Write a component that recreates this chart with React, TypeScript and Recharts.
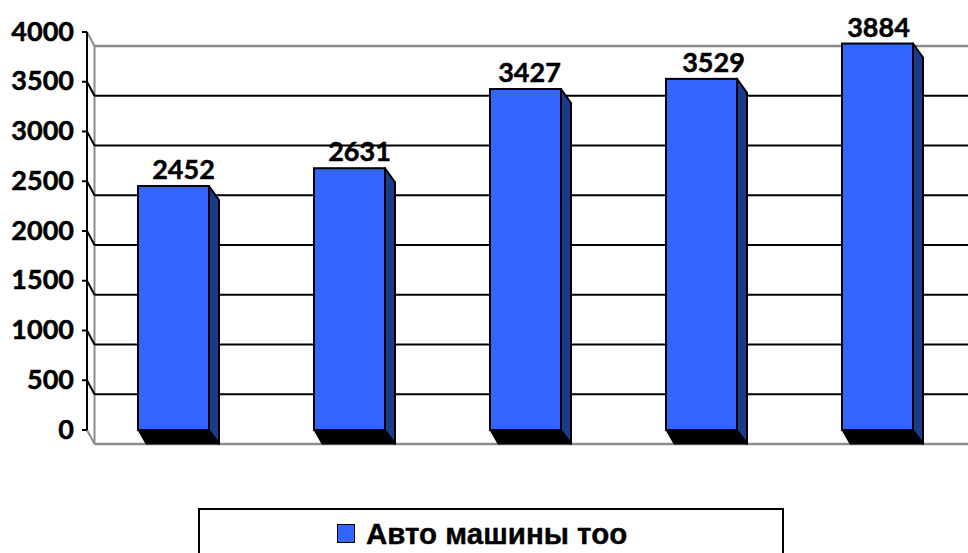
import React from 'react';
import { BarChart, Bar, XAxis, YAxis, ReferenceLine, LabelList, Legend } from 'recharts';

const categories = ['1', '2', '3', '4', '5'];
const values = [2452, 2631, 3427, 3529, 3884];
const yTicks = [0, 500, 1000, 1500, 2000, 2500, 3000, 3500, 4000];
const seriesName = 'Авто машины тоо';
const labelNudge = [10, 10, 4, 12, 1];

const data = categories.map((c, i) => ({ c, v: values[i] }));

const BLUE = '#3366ff';
const SIDE = '#1c3a8c';
const GRAY = '#8c8c8c';
const DX = 7.5;
const DY = 14;
const FONT = 'Lato, Carlito, sans-serif';

const Box3D = (p: any) => {
  const { x, y, width, height } = p;
  const b = y + height;
  return (
    <g>
      <path d={`M${x + width},${y} L${x + width + 10},${y + DY} L${x + width + 10},${b + DY} L${x + width},${b} Z`} fill={SIDE} stroke="#000" strokeWidth={2} strokeLinejoin="round" />
      <path d={`M${x},${b} L${x + width},${b} L${x + width + 10},${b + DY} L${x + 8},${b + DY} Z`} fill="#000" stroke="#000" strokeWidth={1} />
      <rect x={x} y={y} width={width} height={height} fill={BLUE} stroke="#000" strokeWidth={2} />
    </g>
  );
};

const wallLine = (tick: number) => (p: any) => {
  const edge = tick === 0 || tick === 4000;
  const { x1, y1, x2 } = p;
  return (
    <g>
      <line x1={x1} y1={y1} x2={x1 + DX} y2={y1 + DY} stroke={edge ? GRAY : '#000'} strokeWidth={2} />
      <line x1={x1 + DX} y1={y1 + DY} x2={x2 + 5} y2={y1 + DY} stroke={edge ? GRAY : '#000'} strokeWidth={edge ? 2.5 : 2} />
      {tick === 0 ? <line x1={x1 + DX} y1={y1 + DY} x2={x1 + DX} y2={y1 + DY - 398} stroke={GRAY} strokeWidth={2} /> : null}
    </g>
  );
};

const BarLabel = (p: any) => {
  const { x, y, width, value, index } = p;
  return (
    <text x={x + width / 2 + labelNudge[index]} y={y - 7} textAnchor="middle" fontFamily={FONT} fontWeight={700} fontSize={27} fill="#000" stroke="#000" strokeWidth={0.5}>
      {value}
    </text>
  );
};

const LegendBox = (p: any) => {
  const item = p.payload?.[0];
  return (
    <div style={{ position: 'relative', width: 582, height: 45, borderTop: '2px solid #000', borderLeft: '2px solid #000', borderRight: '2px solid #000', boxSizing: 'content-box', background: '#fff' }}>
      <span style={{ position: 'absolute', left: 137, top: 14, width: 16, height: 17, background: item?.color, border: '1.5px solid #000', display: 'block' }} />
      <span style={{ position: 'absolute', left: 166, top: 6, whiteSpace: 'nowrap', fontFamily: '"Liberation Sans", Arial, sans-serif', fontWeight: 700, fontSize: 29.5, lineHeight: '36px', color: '#000', WebkitTextStroke: '0.4px #000' }}>
        {item?.value}
      </span>
    </div>
  );
};

export default function App() {
  return (
    <div style={{ position: 'absolute', left: 0, top: 0, width: 968, height: 553, overflow: 'hidden', background: '#fff' }}>
      <BarChart width={968} height={553} data={data} margin={{ top: 32, right: 1, bottom: 76, left: 0 }} barCategoryGap={0} style={{ fontFamily: FONT }}>
        <XAxis dataKey="c" hide padding={{ left: -2, right: 2 }} />
        <YAxis
          width={87}
          domain={[0, 4000]}
          ticks={yTicks}
          interval={0}
          tickSize={5}
          tickMargin={8}
          axisLine={{ stroke: '#000', strokeWidth: 2 }}
          tickLine={{ stroke: '#000', strokeWidth: 2 }}
          tick={{ fill: '#000', fontSize: 27, fontWeight: 700, fontFamily: FONT, stroke: '#000', strokeWidth: 0.5, dy: -1 }}
        />
        {yTicks.map((t) => (
          <ReferenceLine key={t} y={t} shape={wallLine(t)} zIndex={-1} />
        ))}
        <Bar dataKey="v" name={seriesName} fill={BLUE} barSize={71} shape={Box3D} isAnimationActive={false}>
          <LabelList dataKey="v" content={BarLabel} />
        </Bar>
        <Legend content={LegendBox} wrapperStyle={{ position: 'absolute', left: 198, top: 508, width: 586, height: 47, bottom: 'auto' }} />
      </BarChart>
    </div>
  );
}
